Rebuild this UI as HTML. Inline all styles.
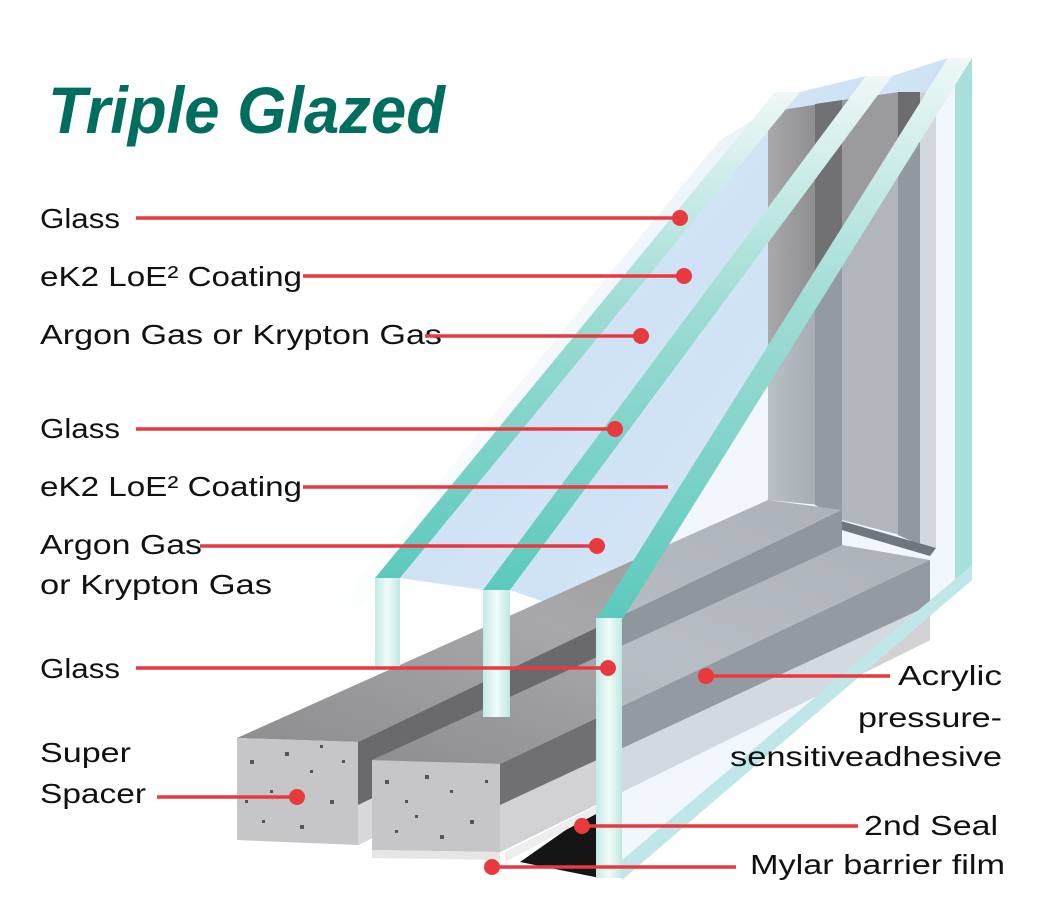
<!DOCTYPE html>
<html><head><meta charset="utf-8"><style>html,body{margin:0;padding:0;background:#fff}svg{display:block}</style></head>
<body>
<svg width="1053" height="924" viewBox="0 0 1053 924" xmlns="http://www.w3.org/2000/svg">
<defs>
<linearGradient id="band" x1="0" y1="1" x2="0" y2="0"><stop offset="0" stop-color="#5cc9bd"/><stop offset="0.55" stop-color="#9edcd4"/><stop offset="1" stop-color="#eef8f7"/></linearGradient>
<linearGradient id="blue" x1="0" y1="0" x2="1" y2="1"><stop offset="0" stop-color="#e9f2fb"/><stop offset="0.5" stop-color="#cfe2f5"/><stop offset="1" stop-color="#e6f1fa"/></linearGradient>
<linearGradient id="haze" x1="1" y1="0" x2="0" y2="0"><stop offset="0" stop-color="#dbe9f6"/><stop offset="1" stop-color="#ffffff"/></linearGradient>
<linearGradient id="strip" x1="0" y1="0" x2="1" y2="0"><stop offset="0" stop-color="#c3ebe6"/><stop offset="0.5" stop-color="#f2fbfa"/><stop offset="1" stop-color="#bfe8e3"/></linearGradient>
<linearGradient id="vbar" x1="0" y1="0" x2="1" y2="0"><stop offset="0" stop-color="#a9a9ab"/><stop offset="1" stop-color="#8c8c8e"/></linearGradient>
<linearGradient id="top" x1="0" y1="1" x2="1" y2="0"><stop offset="0" stop-color="#8e8e90"/><stop offset="0.5" stop-color="#a8a8aa"/><stop offset="1" stop-color="#959597"/></linearGradient>
</defs>

<polygon points="300,650 720,140 800,92 400,578" fill="url(#haze)" opacity="0.6"/>
<polygon points="400,578 800,92 866,76 483,590" fill="url(#blue)"/>
<polygon points="510,590 892,76 948,58 596,620" fill="url(#blue)"/>

<!-- frame vertical bars -->
<polygon points="768,112 820,104 820,505 768,500" fill="url(#vbar)"/>
<polygon points="815,104 842,100 842,520 815,505" fill="#717174"/>
<polygon points="842,100 900,92 900,535 842,520" fill="#9b9b9d"/>
<polygon points="898,92 920,92 920,545 898,535" fill="#6d6d70"/>
<polygon points="920,92 936,95 936,548 920,545" fill="#cfcfd1"/>
<polygon points="768,500 936,548 930,556 760,506" fill="#3a3a3c"/>

<!-- bar 1 -->
<polygon points="237,738 768,500 842,510 358,742" fill="url(#top)"/>
<polygon points="358,742 842,510 842,600 358,845" fill="#6a6a6d"/>
<polygon points="358,805 842,575 842,600 358,845" fill="#d8d8da"/>
<polygon points="237,738 358,742 358,845 237,840" fill="#c6c6c8"/>
<!-- bar 2 -->
<polygon points="372,760 842,545 930,560 500,764" fill="url(#top)"/>
<polygon points="500,764 930,560 930,640 500,852" fill="#707073"/>
<polygon points="500,805 930,605 930,640 500,852" fill="#d2d2d4"/>
<polygon points="520,862 600,806 600,878" fill="#151515"/>
<polygon points="505,852 600,804 600,812 505,862" fill="#eeeeee"/>
<polygon points="372,760 500,764 500,852 372,850" fill="#c6c6c8"/>
<polygon points="372,850 500,852 500,860 372,858" fill="#e6e6e6"/>

<g fill="#555">
<rect x="250" y="760" width="4" height="4"/><rect x="270" y="790" width="3" height="3"/><rect x="285" y="752" width="4" height="4"/><rect x="310" y="770" width="3" height="3"/><rect x="330" y="800" width="4" height="4"/><rect x="262" y="820" width="3" height="3"/><rect x="300" y="825" width="4" height="4"/><rect x="342" y="760" width="3" height="3"/><rect x="245" y="800" width="3" height="3"/><rect x="320" y="745" width="3" height="3"/>
<rect x="385" y="780" width="4" height="4"/><rect x="405" y="800" width="3" height="3"/><rect x="425" y="775" width="4" height="4"/><rect x="450" y="790" width="3" height="3"/><rect x="470" y="820" width="4" height="4"/><rect x="395" y="830" width="3" height="3"/><rect x="440" y="835" width="4" height="4"/><rect x="485" y="780" width="3" height="3"/><rect x="415" y="815" width="3" height="3"/>
</g>

<!-- pane 3 face -->
<polygon points="622,620 960,58 972,58 972,578 622,878" fill="#d6e8f7" opacity="0.35"/>
<polygon points="955,60 972,58 972,578 955,592" fill="#a8e0da"/>
<polygon points="622,860 972,565 972,580 622,880" fill="#bfe6e8"/>

<polygon points="375,578 775,92 800,92 400,578" fill="url(#band)"/>
<polygon points="483,590 866,76 892,76 510,590" fill="url(#band)"/>
<polygon points="596,620 948,58 972,58 622,620" fill="url(#band)"/>
<rect x="375" y="578" width="25" height="90" fill="url(#strip)"/>
<rect x="483" y="590" width="27" height="127" fill="url(#strip)"/>
<rect x="596" y="618" width="26" height="260" fill="url(#strip)"/>

<text x="48" y="133" font-family="Liberation Sans, sans-serif" font-size="66" font-weight="bold" font-style="italic" fill="#006e5f" textLength="397" lengthAdjust="spacingAndGlyphs">Triple Glazed</text>

<g font-family="Liberation Sans, sans-serif" font-size="28" fill="#111">
<text x="40" y="228" textLength="80" lengthAdjust="spacingAndGlyphs">Glass</text>
<text x="40" y="286" textLength="262" lengthAdjust="spacingAndGlyphs">eK2 LoE² Coating</text>
<text x="40" y="344" textLength="402" lengthAdjust="spacingAndGlyphs">Argon Gas or Krypton Gas</text>
<text x="40" y="438" textLength="80" lengthAdjust="spacingAndGlyphs">Glass</text>
<text x="40" y="496" textLength="262" lengthAdjust="spacingAndGlyphs">eK2 LoE² Coating</text>
<text x="40" y="554" textLength="162" lengthAdjust="spacingAndGlyphs">Argon Gas</text>
<text x="40" y="594" textLength="232" lengthAdjust="spacingAndGlyphs">or Krypton Gas</text>
<text x="40" y="678" textLength="80" lengthAdjust="spacingAndGlyphs">Glass</text>
<text x="40" y="762" textLength="91" lengthAdjust="spacingAndGlyphs">Super</text>
<text x="40" y="803" textLength="106" lengthAdjust="spacingAndGlyphs">Spacer</text>
<text x="898" y="685" textLength="104" lengthAdjust="spacingAndGlyphs">Acrylic</text>
<text x="858" y="727" textLength="144" lengthAdjust="spacingAndGlyphs">pressure-</text>
<text x="730" y="766" textLength="272" lengthAdjust="spacingAndGlyphs">sensitiveadhesive</text>
<text x="864" y="835" textLength="134" lengthAdjust="spacingAndGlyphs">2nd Seal</text>
<text x="750" y="874" textLength="255" lengthAdjust="spacingAndGlyphs">Mylar barrier film</text>
</g>

<g stroke="#e8393f" stroke-width="3.5" fill="none">
<line x1="136" y1="218" x2="680" y2="218"/>
<line x1="303" y1="276" x2="684" y2="276"/>
<line x1="425" y1="336" x2="641" y2="336"/>
<line x1="136" y1="429" x2="615" y2="429"/>
<line x1="303" y1="487" x2="668" y2="487"/>
<line x1="200" y1="546" x2="597" y2="546"/>
<line x1="136" y1="668" x2="608" y2="668"/>
<line x1="157" y1="797" x2="297" y2="797"/>
<line x1="706" y1="676" x2="890" y2="676"/>
<line x1="582" y1="826" x2="858" y2="826"/>
<line x1="492" y1="867" x2="736" y2="867"/>
</g>
<g fill="#e8393f">
<circle cx="680" cy="218" r="8"/><circle cx="684" cy="276" r="8"/><circle cx="641" cy="336" r="8"/>
<circle cx="615" cy="429" r="8"/><circle cx="597" cy="546" r="8"/><circle cx="608" cy="668" r="8"/>
<circle cx="297" cy="797" r="8"/><circle cx="706" cy="676" r="8"/><circle cx="582" cy="826" r="8"/><circle cx="492" cy="867" r="8"/>
</g>
</svg>
</body></html>
